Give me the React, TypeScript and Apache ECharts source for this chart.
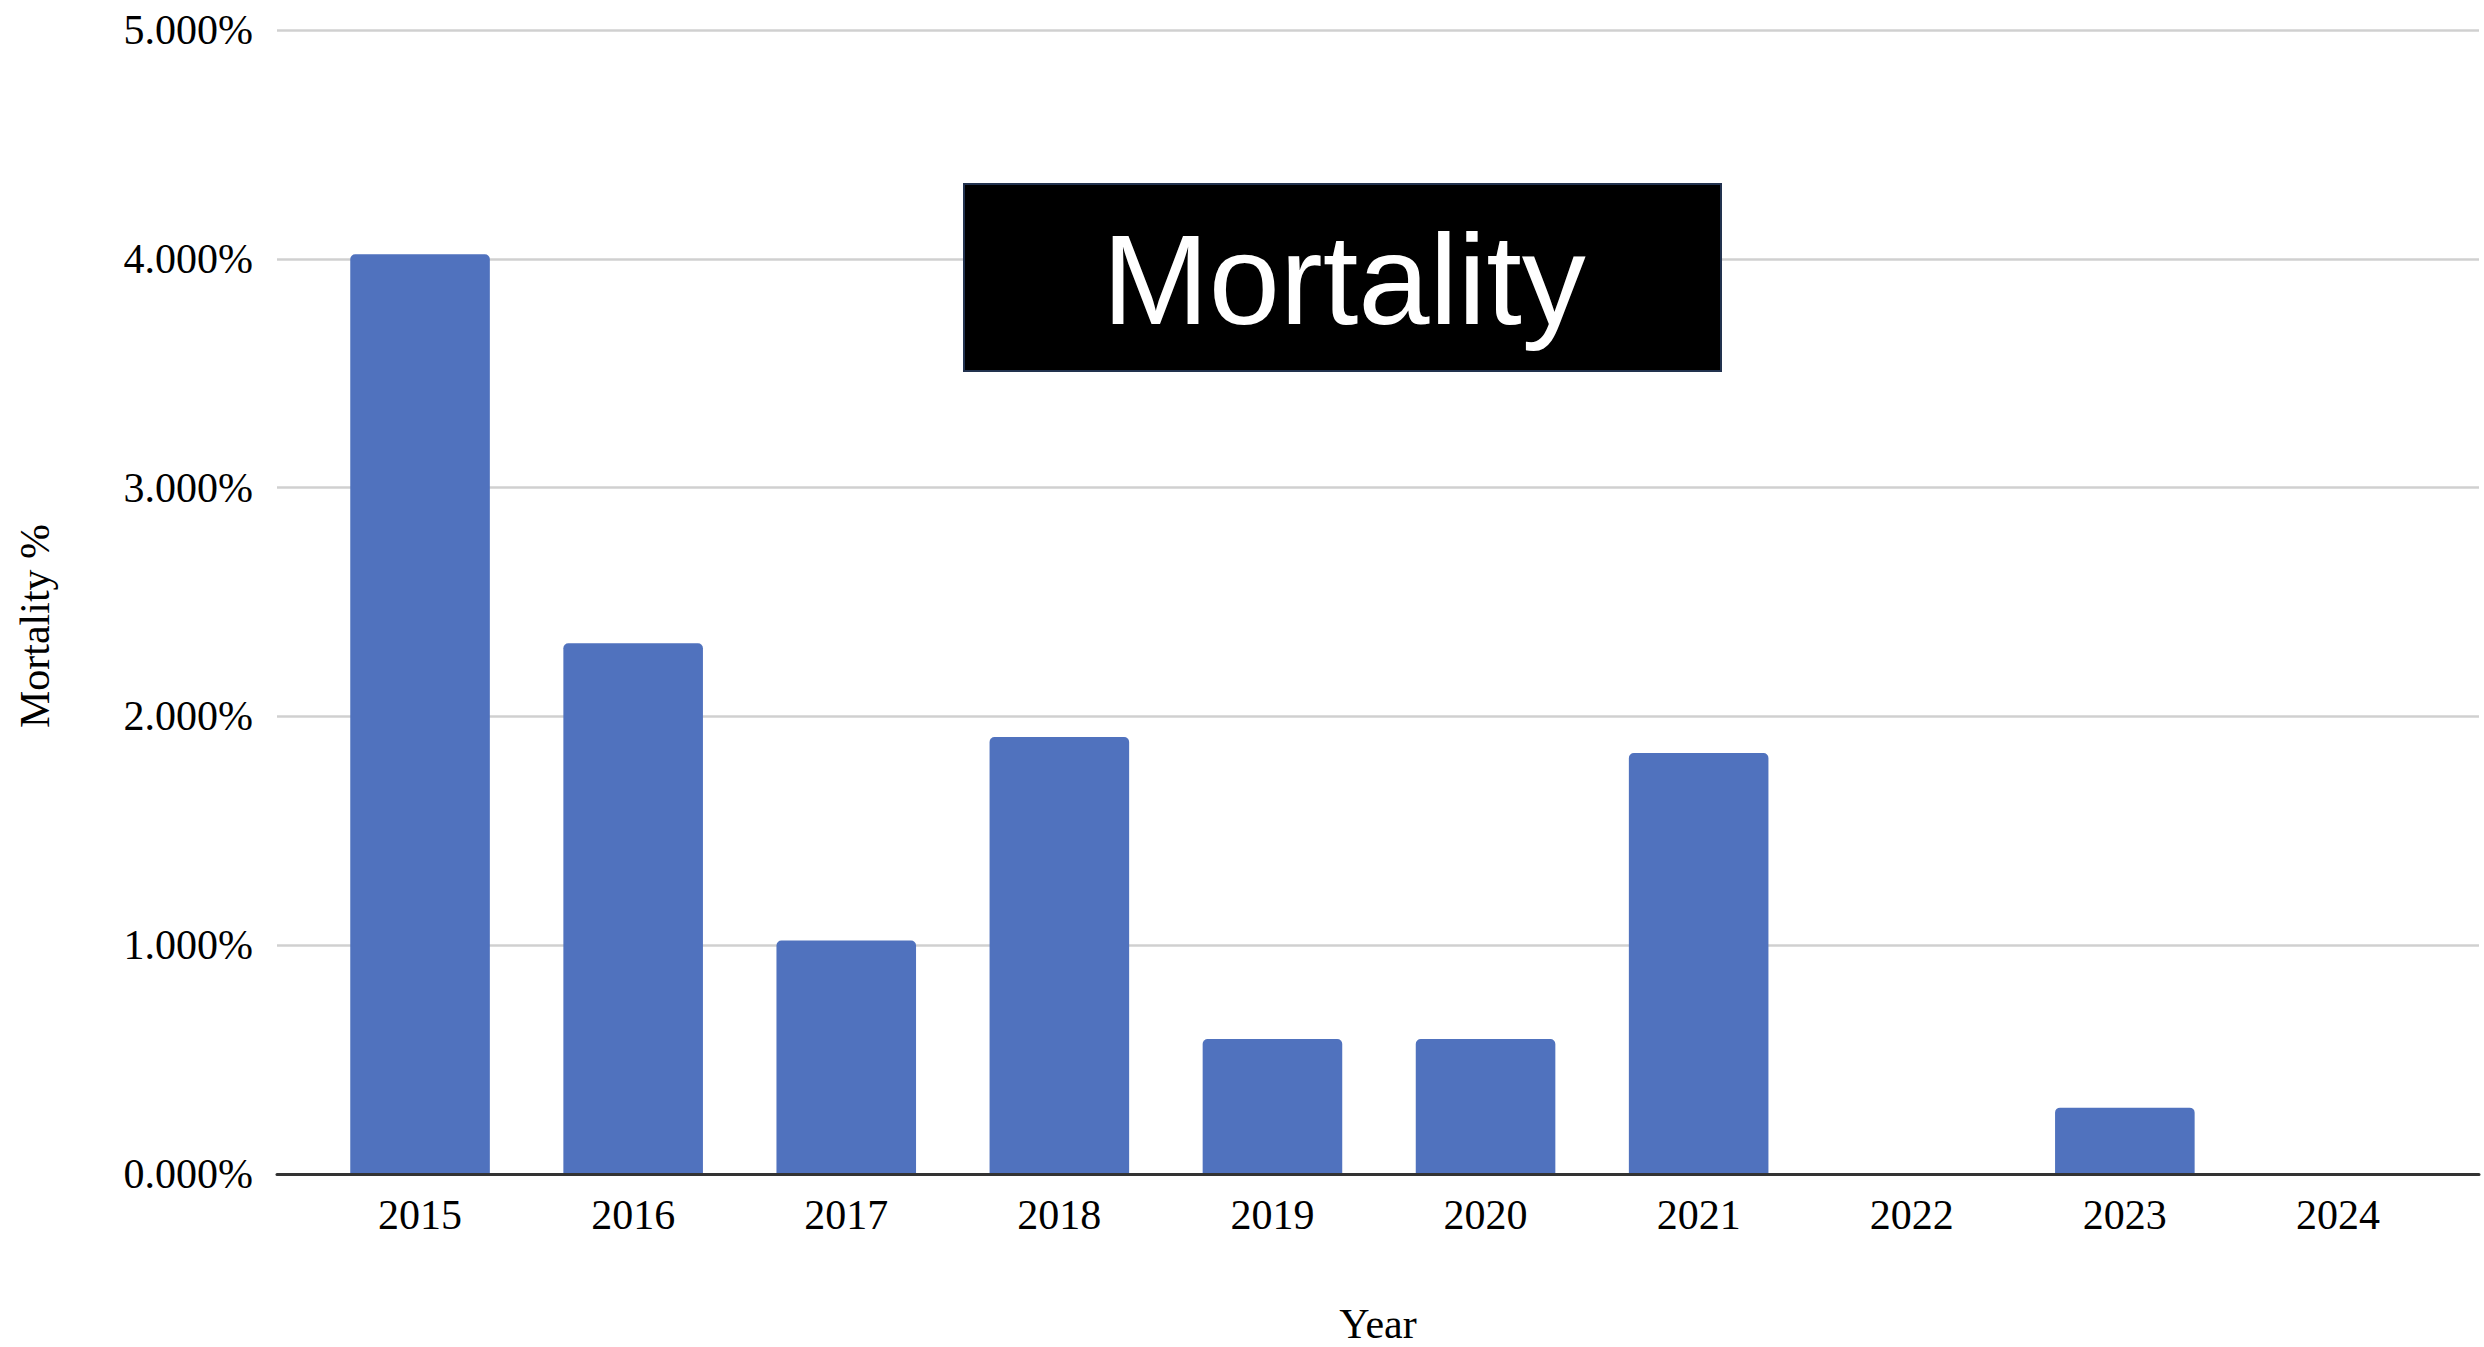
import React, { useEffect, useRef } from "react";
import * as echarts from "echarts";

const years = ["2015", "2016", "2017", "2018", "2019", "2020", "2021", "2022", "2023", "2024"];
const mortalityPct = [4.02, 2.32, 1.02, 1.91, 0.59, 0.59, 1.84, 0, 0.29, 0];
const yMin = 0;
const yMax = 5;
const yInterval = 1;
const chartTitle = "Mortality";
const yAxisTitle = "Mortality %";
const xAxisTitle = "Year";

const SERIF = "'Liberation Serif', 'DejaVu Serif', serif";
const SANS = "'Liberation Sans', Arial, sans-serif";

export default function App() {
  const ref = useRef<HTMLDivElement>(null);

  useEffect(() => {
    if (!ref.current) return;
    const chart = echarts.init(ref.current, undefined, { renderer: "svg" });
    const W = 2484;
    const H = 1347;
    const plotLeft = 277;
    const plotRight = 2479;
    const plotTop = 30;
    const plotBottom = 1174;
    const barLeft = 313.5;
    const barRight = 2444.5;

    chart.setOption({
      animation: false,
      backgroundColor: "#ffffff",
      grid: [
        { left: plotLeft, right: W - plotRight, top: plotTop, bottom: H - plotBottom, containLabel: false },
        { left: barLeft, right: W - barRight, top: plotTop, bottom: H - plotBottom, containLabel: false },
      ],
      xAxis: [
        {
          type: "category",
          gridIndex: 0,
          data: [""],
          z: 5,
          axisLine: { show: true, lineStyle: { color: "#333333", width: 3 } },
          axisTick: { show: false },
          axisLabel: { show: false },
          splitLine: { show: false },
        },
        {
          type: "category",
          gridIndex: 1,
          data: years,
          boundaryGap: true,
          axisLine: { show: false },
          axisTick: { show: false },
          axisLabel: {
            show: true,
            interval: 0,
            margin: 20,
            color: "#000000",
            fontFamily: SERIF,
            fontSize: 42,
          },
          splitLine: { show: false },
        },
      ],
      yAxis: [
        {
          type: "value",
          gridIndex: 0,
          min: yMin,
          max: yMax,
          interval: yInterval,
          axisLine: { show: false },
          axisTick: { show: false },
          axisLabel: {
            show: true,
            margin: 24,
            color: "#000000",
            fontFamily: SERIF,
            fontSize: 42,
            formatter: (v: number) => v.toFixed(3) + "%",
          },
          splitLine: { show: true, lineStyle: { color: "#d0d0d0", width: 2.5 } },
        },
        {
          type: "value",
          gridIndex: 1,
          min: yMin,
          max: yMax,
          interval: yInterval,
          show: false,
          splitLine: { show: false },
        },
      ],
      series: [
        {
          type: "bar",
          xAxisIndex: 1,
          yAxisIndex: 1,
          data: mortalityPct,
          barWidth: "65.5%",
          itemStyle: { color: "#5072BE", borderRadius: [5, 5, 0, 0] },
        },
      ],
      graphic: [
        {
          type: "text",
          x: 35,
          y: 626,
          rotation: Math.PI / 2,
          style: {
            text: yAxisTitle,
            fontFamily: SERIF,
            fontSize: 42,
            fill: "#000000",
            textAlign: "center",
            textVerticalAlign: "middle",
          },
        },
        {
          type: "text",
          x: (plotLeft + plotRight) / 2,
          y: 1324,
          style: {
            text: xAxisTitle,
            fontFamily: SERIF,
            fontSize: 42,
            fill: "#000000",
            textAlign: "center",
            textVerticalAlign: "middle",
          },
        },
        {
          type: "group",
          z: 100,
          children: [
            {
              type: "rect",
              shape: { x: 964, y: 184, width: 757, height: 187 },
              style: { fill: "#000000", stroke: "#22324f", lineWidth: 2 },
              z: 100,
            },
            {
              type: "text",
              x: 1344,
              y: 279,
              z: 101,
              style: {
                text: chartTitle,
                fontFamily: SANS,
                fontSize: 128,
                fill: "#ffffff",
                textAlign: "center",
                textVerticalAlign: "middle",
              },
            },
          ],
        },
      ],
    });

    return () => {
      chart.dispose();
    };
  }, []);

  return (
    <div
      ref={ref}
      style={{ position: "fixed", left: 0, top: 0, width: 2484, height: 1347, background: "#ffffff" }}
    />
  );
}
